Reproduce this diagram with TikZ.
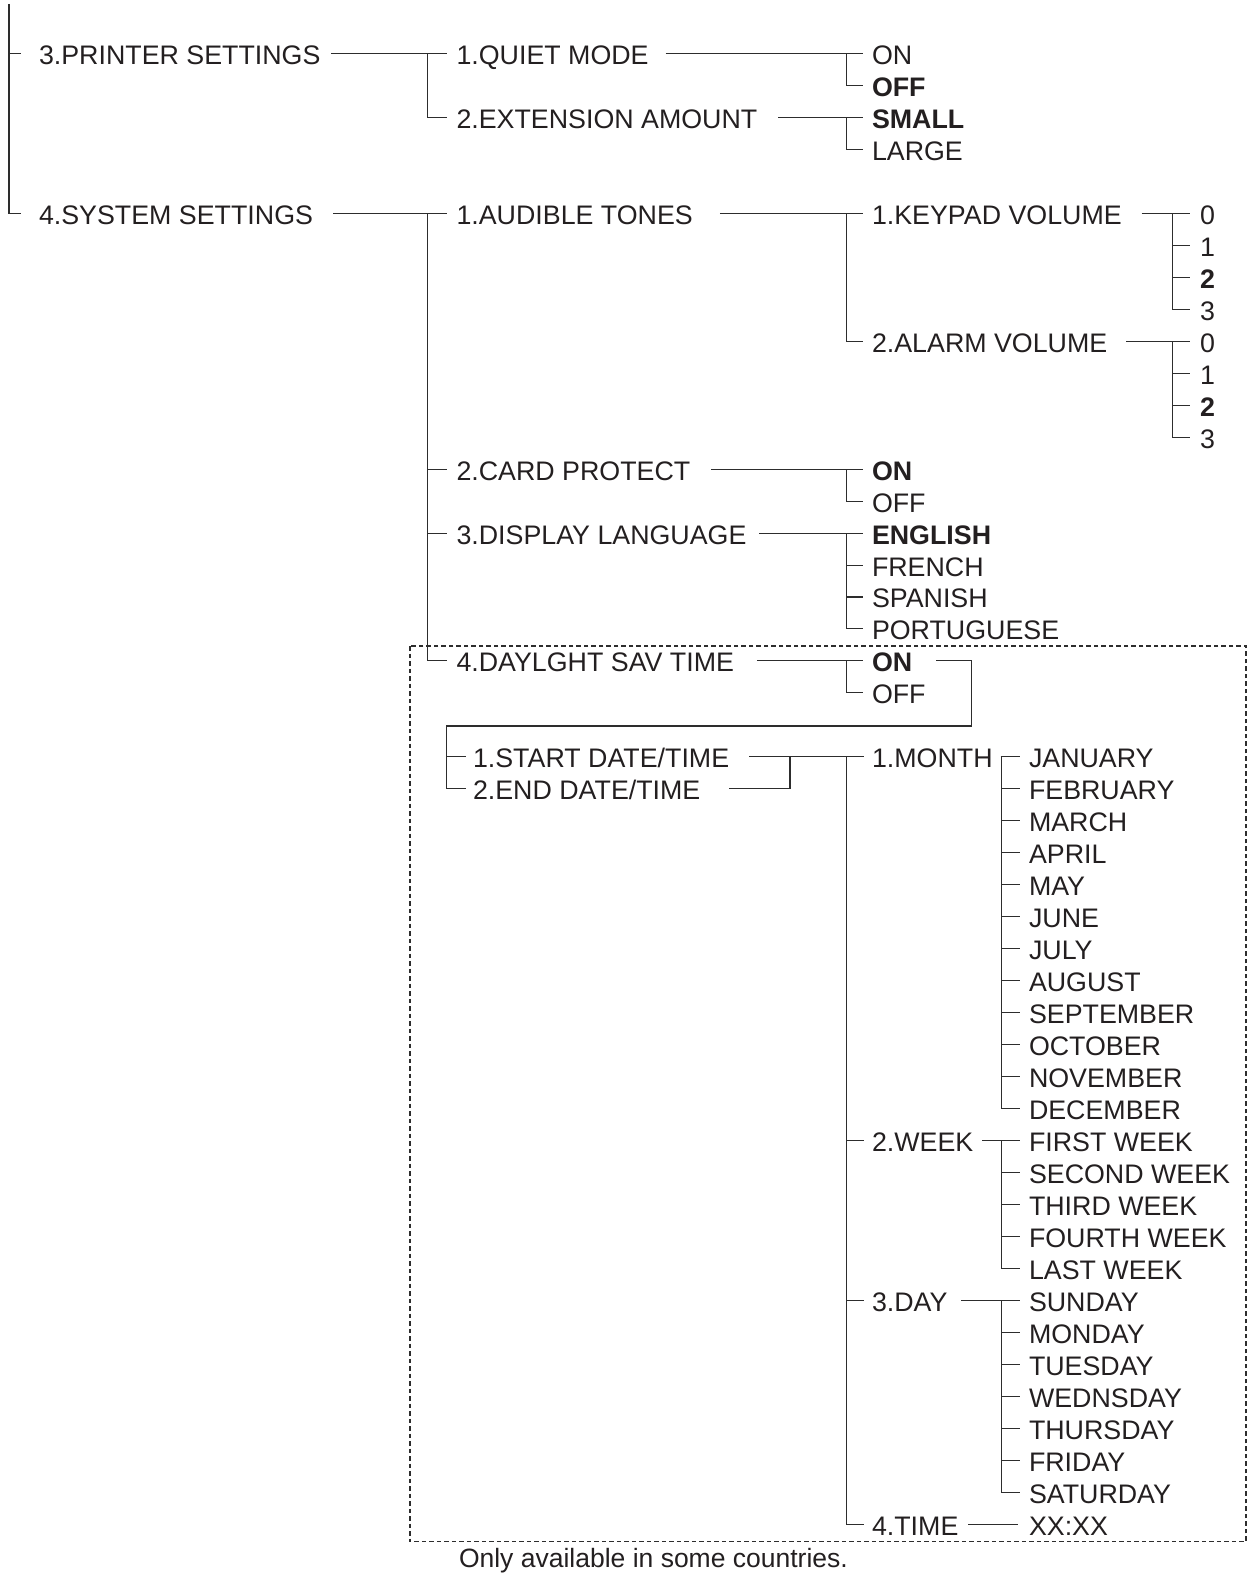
\documentclass[tikz,border=0pt]{standalone}
\usepackage{fontspec}
\setmainfont{Liberation Sans}
\usetikzlibrary{calc}
\definecolor{txtcol}{RGB}{35,31,32}
\definecolor{linecol}{RGB}{45,45,45}
\newcommand\fs{\fontsize{26.8pt}{30pt}\selectfont}
\newcommand\fsn{\fontsize{26.5pt}{30pt}\selectfont}
\newcommand\mynode[7][txt]{%
  \node[#1] (#2) at (#3,#4) {#5};
  \coordinate (#2-l) at ($(#2.base west)+(-#6pt,11pt)$);
  \coordinate (#2-r) at ($(#2.base east)+(#7pt,11pt)$);}
% parent, vertical, first child, last child
\newcommand\grp[4]{%
  \draw[conn] (#1-r) -- (#3-l);
  \draw[conn] (#3-l -| #2) |- (#4-l);}
\newcommand\ticks[2]{%
  \foreach \m in {#2} {\draw[conn] (\m-l -| #1) -- (\m-l);}}
\begin{document}
\begin{tikzpicture}[x=1pt,y=-31.97pt,
  txt/.style={anchor=base west, inner sep=0pt, outer sep=0pt, yshift=-11pt, font=\fs, text=txtcol},
  bt/.style={txt, font=\fs\bfseries},
  conn/.style={draw=linecol, line width=1.05pt},
  dbox/.style={draw=linecol, line width=1.05pt, dash pattern=on 4.5pt off 3pt}]
\useasboundingbox (0pt,53.5pt) rectangle (1258pt,-1522.5pt);
% verticals
\coordinate (v1) at (9,0);
\coordinate (v2) at (427.7,0);
\coordinate (v3) at (846.7,0);
\coordinate (v4) at (1172.3,0);
\coordinate (vse) at (446.7,0);
\coordinate (vj) at (790,0);
\coordinate (vm) at (1001.5,0);
\coordinate (t1) at (9,-1.55);
\coordinate (lpc) at (971.7,21.035);
% level 1
\mynode{p3}{39}{0}{3.PRINTER SETTINGS}{18}{11}
\mynode{ss}{39}{5}{4.SYSTEM SETTINGS}{18}{20}
% level 2
\mynode{qm}{456.5}{0}{1.QUIET MODE}{10}{17}
\mynode{ea}{456.5}{2}{2.EXTENSION AMOUNT}{10}{21}
\mynode{at}{456.5}{5}{1.AUDIBLE TONES}{10}{27}
\mynode{cp}{456.5}{13}{2.CARD PROTECT}{10}{21}
\mynode{dl}{456.5}{15}{3.DISPLAY LANGUAGE}{10}{13}
\mynode{dst}{456.5}{19}{4.DAYLGHT SAV TIME}{10}{23}
% level 3
\mynode{onA}{872}{0}{ON}{9}{0}
\mynode[bt]{offA}{872}{1}{OFF}{9}{0}
\mynode[bt]{sm}{872}{2}{SMALL}{9}{0}
\mynode{lg}{872}{3}{LARGE}{9}{0}
\mynode{kv}{872}{5}{1.KEYPAD VOLUME}{9}{20}
\mynode{av}{872}{9}{2.ALARM VOLUME}{9}{19}
\mynode[bt]{onB}{872}{13}{ON}{9}{0}
\mynode{offB}{872}{14}{OFF}{9}{0}
\mynode[bt]{en}{872}{15}{ENGLISH}{9}{0}
\mynode{fr}{872}{16}{FRENCH}{9}{0}
\mynode{spn}{872}{17}{SPANISH}{9}{0}
\mynode{pt}{872}{18}{PORTUGUESE}{9}{0}
\mynode[bt]{onC}{872}{19}{ON}{9}{24}
\mynode{offC}{872}{20}{OFF}{9}{0}
% level 4 digits
\mynode{ka0}{1200}{5}{0}{10}{0}
\mynode{ka1}{1200}{6}{1}{10}{0}
\mynode[bt]{ka2}{1200}{7}{2}{10}{0}
\mynode{ka3}{1200}{8}{3}{10}{0}
\mynode{kb0}{1200}{9}{0}{10}{0}
\mynode{kb1}{1200}{10}{1}{10}{0}
\mynode[bt]{kb2}{1200}{11}{2}{10}{0}
\mynode{kb3}{1200}{12}{3}{10}{0}
% start / end
\mynode{sd}{473}{22}{1.START DATE/TIME}{7}{20}
\mynode{ed}{473}{23}{2.END DATE/TIME}{7}{29}
\mynode{mo}{872}{22}{1.MONTH}{8}{8}
\mynode{wk}{872}{34}{2.WEEK}{8}{9}
\mynode{dy}{872}{39}{3.DAY}{8}{14}
\mynode{tm}{872}{46}{4.TIME}{8}{10}
% months
\mynode{m1}{1029}{22}{JANUARY}{9}{0}
\mynode{m2}{1029}{23}{FEBRUARY}{9}{0}
\mynode{m3}{1029}{24}{MARCH}{9}{0}
\mynode{m4}{1029}{25}{APRIL}{9}{0}
\mynode{m5}{1029}{26}{MAY}{9}{0}
\mynode{m6}{1029}{27}{JUNE}{9}{0}
\mynode{m7}{1029}{28}{JULY}{9}{0}
\mynode{m8}{1029}{29}{AUGUST}{9}{0}
\mynode{m9}{1029}{30}{SEPTEMBER}{9}{0}
\mynode{m10}{1029}{31}{OCTOBER}{9}{0}
\mynode{m11}{1029}{32}{NOVEMBER}{9}{0}
\mynode{m12}{1029}{33}{DECEMBER}{9}{0}
\mynode{w1}{1029}{34}{FIRST WEEK}{9}{0}
\mynode{w2}{1029}{35}{SECOND WEEK}{9}{0}
\mynode{w3}{1029}{36}{THIRD WEEK}{9}{0}
\mynode{w4}{1029}{37}{FOURTH WEEK}{9}{0}
\mynode{w5}{1029}{38}{LAST WEEK}{9}{0}
\mynode{d1}{1029}{39}{SUNDAY}{9}{0}
\mynode{d2}{1029}{40}{MONDAY}{9}{0}
\mynode{d3}{1029}{41}{TUESDAY}{9}{0}
\mynode{d4}{1029}{42}{WEDNSDAY}{9}{0}
\mynode{d5}{1029}{43}{THURSDAY}{9}{0}
\mynode{d6}{1029}{44}{FRIDAY}{9}{0}
\mynode{d7}{1029}{45}{SATURDAY}{9}{0}
\mynode{xx}{1029}{46}{XX:XX}{11}{0}
\node[txt, font=\fsn] (note) at (459,47) {Only available in some countries.};
% connectors level 1
\draw[conn] (t1) |- (ss-l);
\draw[conn] (p3-l -| v1) -- (p3-l);
% printer settings
\grp{p3}{v2}{qm}{ea}
\grp{qm}{v3}{onA}{offA}
\grp{ea}{v3}{sm}{lg}
% system settings
\grp{ss}{v2}{at}{dst}
\ticks{v2}{cp,dl}
\grp{at}{v3}{kv}{av}
\grp{kv}{v4}{ka0}{ka3}
\ticks{v4}{ka1,ka2}
\grp{av}{v4}{kb0}{kb3}
\ticks{v4}{kb1,kb2}
\grp{cp}{v3}{onB}{offB}
\grp{dl}{v3}{en}{pt}
\ticks{v3}{fr,spn}
\grp{dst}{v3}{onC}{offC}
% daylight loop
\draw[conn] (onC-r) -| (lpc) -| (ed-l -| vse) -- (ed-l);
\draw[conn] (sd-l -| vse) -- (sd-l);
% start / end junction
\draw[conn] (sd-r) -- (mo-l);
\draw[conn] (sd-r -| vj) |- (ed-r);
\draw[conn] (mo-l -| v3) |- (tm-l);
\ticks{v3}{wk,dy}
\grp{mo}{vm}{m1}{m12}
\ticks{vm}{m2,m3,m4,m5,m6,m7,m8,m9,m10,m11}
\grp{wk}{vm}{w1}{w5}
\ticks{vm}{w2,w3,w4}
\grp{dy}{vm}{d1}{d7}
\ticks{vm}{d2,d3,d4,d5,d6}
\draw[conn] (tm-r) -- (xx-l);
% dashed box
\draw[dbox] (410,18.533) rectangle (1246,46.55);
\end{tikzpicture}
\end{document}
